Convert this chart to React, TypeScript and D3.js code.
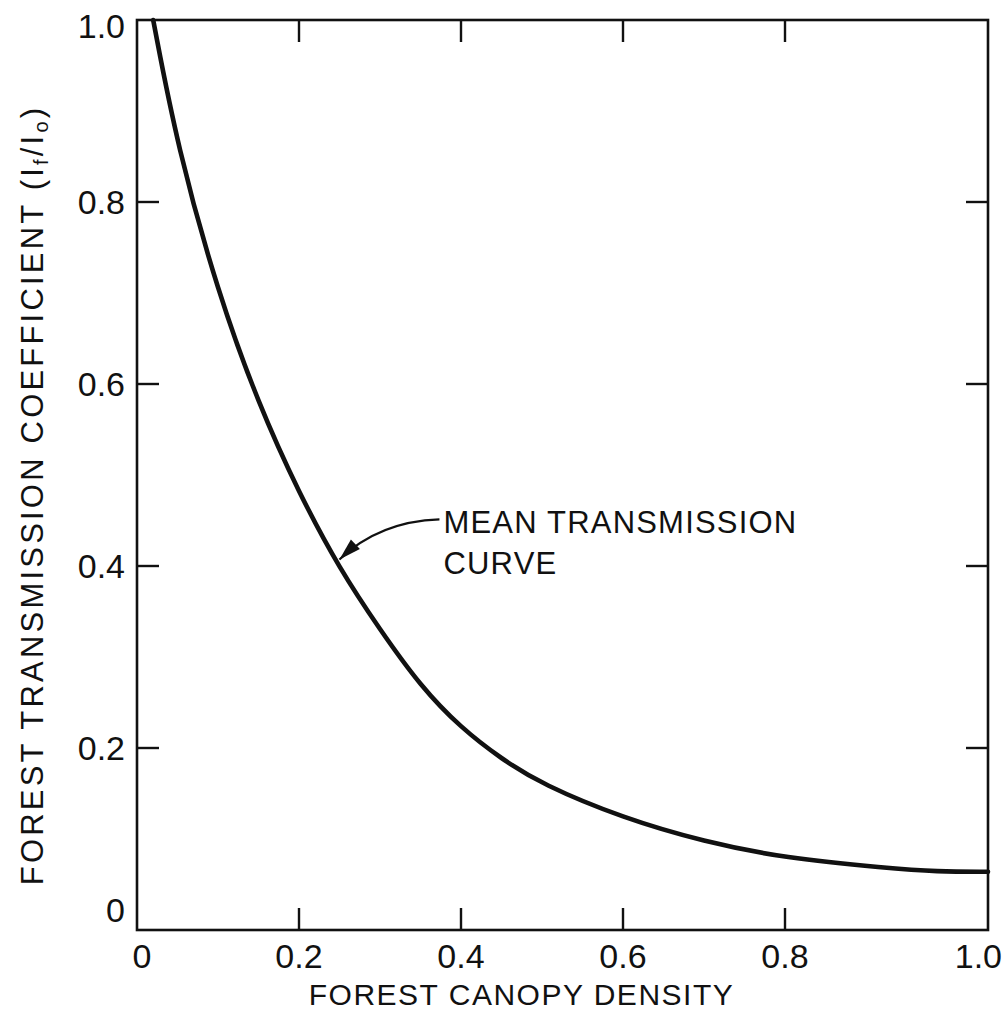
import React from "react";
import * as d3 from "d3";

// mean transmission curve
const canopyDensity = [0.02, 0.05, 0.1, 0.15, 0.2, 0.25, 0.3, 0.35, 0.4, 0.45, 0.5, 0.6, 0.7, 0.8, 0.9, 0.95, 1.0];
const transmission = [1.0, 0.86, 0.70, 0.578, 0.48, 0.397, 0.33, 0.268, 0.222, 0.188, 0.16, 0.123, 0.097, 0.079, 0.068, 0.064, 0.064];

const xTicks = [0, 0.2, 0.4, 0.6, 0.8, 1.0];
const xTickLabels = ["0", "0.2", "0.4", "0.6", "0.8", "1.0"];
const yTicks = [0, 0.2, 0.4, 0.6, 0.8, 1.0];
const yTickLabels = ["0", "0.2", "0.4", "0.6", "0.8", "1.0"];

const annotationLines = ["MEAN TRANSMISSION", "CURVE"];
// arrow points at this spot on the curve
const arrowTarget = { x: 0.245, y: 0.405 };

const font = "'Liberation Sans', Arial, sans-serif";

export default function App() {
  const width = 1008;
  const height = 1026;

  // the hand drawn axis is not evenly spaced near the right end
  const x = d3.scaleLinear().domain([0, 0.8, 1.0]).range([137, 785, 988]);
  const y = d3.scaleLinear().domain([0, 1]).range([930, 20]);

  const data = canopyDensity.map((d, i) => ({ x: d, y: transmission[i] }));
  const line = d3.line<{ x: number; y: number }>()
    .x(d => x(d.x))
    .y(d => y(d.y))
    .curve(d3.curveBasis);

  const tickLen = 22;
  const inner = [0.2, 0.4, 0.6, 0.8];

  // arrow
  const tipX = x(arrowTarget.x) + 4;
  const tipY = y(arrowTarget.y) - 2;
  const tailX = tipX + 100;
  const tailY = tipY - 40;
  const ctrlX = tipX + 40;
  const ctrlY = tipY - 38;
  const ang = Math.atan2(tipY - ctrlY, tipX - ctrlX);
  const ah = 22, aw = 6.5;
  const headPts = [
    [tipX, tipY],
    [tipX - ah * Math.cos(ang) + aw * Math.sin(ang), tipY - ah * Math.sin(ang) - aw * Math.cos(ang)],
    [tipX - ah * Math.cos(ang) - aw * Math.sin(ang), tipY - ah * Math.sin(ang) + aw * Math.cos(ang)],
  ];

  return (
    <svg width={width} height={height} style={{ position: "absolute", left: 0, top: 0, background: "#fff" }}>
      <rect x={0} y={0} width={width} height={height} fill="#fff" />
      {/* frame */}
      <rect x={x(0)} y={y(1)} width={x(1) - x(0)} height={y(0) - y(1)} fill="none" stroke="#111" strokeWidth={2.6} />

      {/* ticks, pointing inwards on all four sides */}
      {inner.map(t => (
        <g key={"xt" + t} stroke="#111" strokeWidth={2.4}>
          <line x1={x(t)} x2={x(t)} y1={y(0)} y2={y(0) - tickLen} />
          <line x1={x(t)} x2={x(t)} y1={y(1)} y2={y(1) + tickLen} />
        </g>
      ))}
      {inner.map(t => (
        <g key={"yt" + t} stroke="#111" strokeWidth={2.4}>
          <line x1={x(0)} x2={x(0) + tickLen} y1={y(t)} y2={y(t)} />
          <line x1={x(1)} x2={x(1) - tickLen} y1={y(t)} y2={y(t)} />
        </g>
      ))}

      {/* x tick labels */}
      {xTicks.map((t, i) => (
        <text key={"xl" + t} x={i === xTicks.length - 1 ? 1002 : x(t) + (t === 0 ? 5 : 0)} y={968}
          textAnchor={i === xTicks.length - 1 ? "end" : "middle"}
          fontFamily={font} fontSize={34} fill="#111">{xTickLabels[i]}</text>
      ))}
      {/* y tick labels */}
      {yTicks.map((t, i) => (
        <text key={"yl" + t} x={125} y={y(t) + (t === 0 ? -20 : t === 1 ? 6 : 0)} textAnchor="end"
          dominantBaseline="central" fontFamily={font} fontSize={34} fill="#111">{yTickLabels[i]}</text>
      ))}

      {/* axis titles */}
      <text x={(308 + 735) / 2} y={1005} textAnchor="middle" fontFamily={font} fontSize={30}
        letterSpacing={1.5} fill="#111">FOREST CANOPY DENSITY</text>
      <text transform={`translate(43, ${(100 + 890) / 2}) rotate(-90)`} textAnchor="middle"
        fontFamily={font} fontSize={31} letterSpacing={3.2} fill="#111">
        FOREST TRANSMISSION COEFFICIENT (I<tspan fontSize={20} dy={5}>f</tspan><tspan dy={-5}>/I</tspan><tspan fontSize={20} dy={5}>o</tspan><tspan dy={-5}>)</tspan>
      </text>

      {/* curve */}
      <path d={line(data) ?? ""} fill="none" stroke="#111" strokeWidth={4.6} strokeLinecap="round" />

      {/* annotation */}
      <path d={`M${tailX},${tailY} Q${ctrlX},${ctrlY} ${tipX},${tipY}`} fill="none" stroke="#111" strokeWidth={2.2} />
      <polygon points={headPts.map(p => p.join(",")).join(" ")} fill="#111" />
      {annotationLines.map((s, i) => (
        <text key={s} x={tailX + 4} y={533 + i * 41} fontFamily={font} fontSize={31} letterSpacing={1.2} fill="#111">{s}</text>
      ))}
    </svg>
  );
}
